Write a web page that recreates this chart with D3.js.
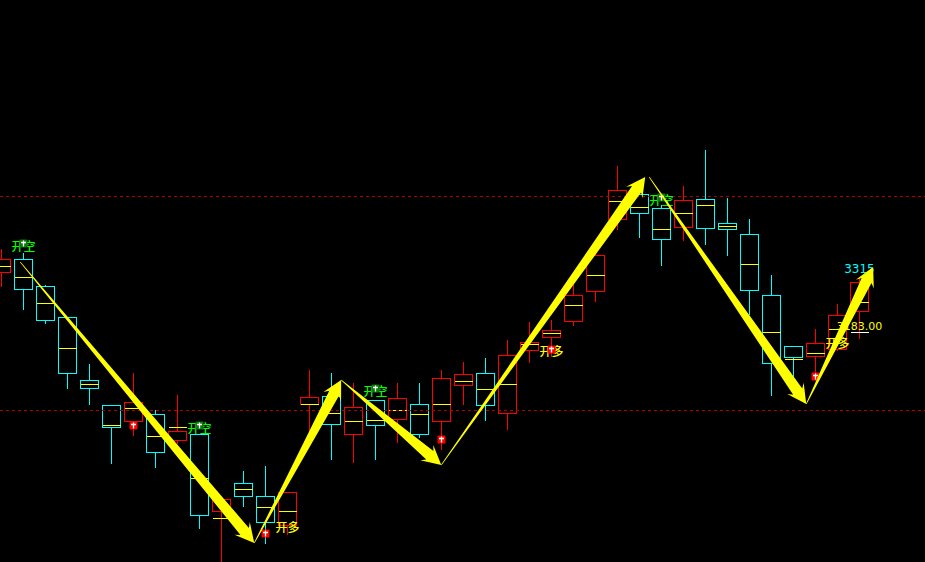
<!DOCTYPE html>
<html><head><meta charset="utf-8">
<script src="https://cdn.jsdelivr.net/npm/d3@7"></script>
<style>html,body{margin:0;padding:0;background:#000;overflow:hidden}svg{display:block}</style>
</head><body><svg id="c" width="925" height="562"></svg>
<script>
const highs=[3337,3329,3265,3201,3107,3025,3089,3015,3045,2967,2841,2893,2903,2851,3095,3089,3069,3035,3069,3069,3095,3111,3119,3155,3191,3195,3275,3335,3503,3449,3425,3463,3535,3439,3397,3285,3143,3177,3227,3279];
const lows=[3263,3217,3189,3059,3027,2909,2965,2901,2949,2779,2711,2823,2749,2767,2965,2917,2911,2917,2951,2961,2937,3027,2995,2977,3111,3123,3185,3233,3377,3361,3305,3355,3347,3325,3207,3045,3071,3075,3135,3159];
const tops=[3317,3317,3263,3201,3075,3025,3031,3007,2973,2967,2837,2869,2843,2851,3041,3043,3021,3035,3039,3027,3079,3087,3089,3125,3151,3175,3245,3325,3455,3447,3419,3435,3437,3389,3367,3245,3143,3149,3205,3271];
const bottoms=[3291,3257,3195,3089,3059,2981,2993,2931,2955,2805,2813,2843,2791,2785,3027,2987,2967,2985,2997,2967,2993,3065,3025,3009,3135,3161,3193,3253,3397,3409,3357,3381,3379,3377,3255,3109,3121,3123,3137,3213];
const mids=[3303,3281,3229,3139,3067,2985,3019,2963,2981,2879,2799,2857,2821,2813,3027,3009,2993,2995,3015,3007,3027,3073,3057,3067,3147,3169,3225,3285,3433,3421,3377,3409,3425,3383,3307,3171,3117,3129,3177,3231];
const redIdx=[0,6,8,10,13,14,16,18,20,21,23,24,25,26,27,28,31,37,38,39];
const refLevels=[3443,3015];
const arrowIdx=[[0.85,11.49],[11.49,15.44],[15.44,19.99],[19.99,29.26],[29.44,36.58],[36.58,39.62]];
const arrowPrice=[[3311,2749],[2749,3075],[3075,2905],[2905,3481],[3481,3027],[3027,3301]];
const shortMarkers=[[1,3349],[9,2985],[17,3059],[30,3441]];
const longMarkers=[[6,2985],[12,2769],[20,2957],[25,3137],[37,3083]];
const shortLabels=[[1,3341],[9,2977],[17,3051],[30,3433]];
const longLabels=[[13,2779],[25,3131],[38,3147]];
const priceTexts=[["3315",39,3297,"#00ffff"],["3183.00",39,3183,"#ffff00"]];
const closeTick=[39,3171];

const svg=d3.select("#c");
const x=d3.scaleLinear().domain([0,39]).range([1.5,859.5]);
const y=d3.scaleLinear().domain([3835,2711]).range([0,562]);
const py=v=>Math.floor(y(v)+1e-6)+0.5;
const hw=9;
svg.append("rect").attr("width",925).attr("height",562).attr("fill","#000");

const g=svg.append("g").attr("shape-rendering","crispEdges");
const candles=d3.range(highs.length);
const col=i=>redIdx.includes(i)?"#ff0000":"#00ffff";
g.selectAll("line.w").data(candles).join("line").attr("class","w")
 .attr("x1",x).attr("x2",x).attr("y1",i=>py(highs[i])-0.5).attr("y2",i=>py(lows[i])+0.5)
 .attr("stroke",col);
g.selectAll("rect.b").data(candles).join("rect").attr("class","b")
 .attr("x",i=>x(i)-hw).attr("width",hw*2)
 .attr("y",i=>py(tops[i])).attr("height",i=>py(bottoms[i])-py(tops[i]))
 .attr("fill","#000").attr("stroke",col);
g.selectAll("line.m").data(candles).join("line").attr("class","m")
 .attr("x1",i=>x(i)-hw).attr("x2",i=>x(i)+hw).attr("y1",i=>py(mids[i])).attr("y2",i=>py(mids[i]))
 .attr("stroke","#ffff00");
g.append("line").attr("x1",x(closeTick[0])-hw).attr("x2",x(closeTick[0])+hw)
 .attr("y1",py(closeTick[1])).attr("y2",py(closeTick[1])).attr("stroke","#ffffff");

g.selectAll("line.ref").data(refLevels).join("line").attr("class","ref")
 .attr("x1",0).attr("x2",925).attr("y1",py).attr("y2",py)
 .attr("stroke","#b00000").attr("stroke-dasharray","3,3");

const font="'Noto Sans CJK SC','Noto Sans',sans-serif";
function labels(data,txt,color){
  svg.append("g").selectAll("text").data(data).join("text")
   .attr("x",d=>x(d[0])).attr("y",d=>y(d[1])).attr("dy","0.36em")
   .attr("text-anchor","middle").attr("font-family",font).attr("font-size",12).attr("font-weight",500)
   .attr("fill",color).text(txt);
}
labels(shortLabels,"开空","#00ff00");
labels(longLabels,"开多","#ffff00");

function markers(data,fill){
  const m=svg.append("g").selectAll("g").data(data).join("g")
   .attr("transform",d=>`translate(${x(d[0])},${py(d[1])})`);
  m.append("rect").attr("x",-4).attr("y",-4).attr("width",8).attr("height",8).attr("rx",1).attr("fill",fill);
  m.append("path").attr("d","M-2.5,-1H2.5M0,-3V3").attr("stroke","#fff").attr("stroke-width",1.3).attr("fill","none");
}
markers(shortMarkers,"#0a7a0a");
markers(longMarkers,"#ff0000");

svg.append("g").selectAll("text").data(priceTexts).join("text")
 .attr("x",d=>x(d[1])).attr("y",d=>y(d[2])).attr("dy","0.36em")
 .attr("text-anchor","middle").attr("font-family","'DejaVu Sans',sans-serif")
 .attr("font-size",(d,i)=>i?11:12)
 .attr("fill",d=>d[3]).text(d=>d[0]);

function arrowPath(x0,y0,x1,y1){
  const L=Math.hypot(x1-x0,y1-y0),ux=(x1-x0)/L,uy=(y1-y0)/L,nx=-uy,ny=ux;
  const pt=(b,s)=>[x1-ux*b+nx*s,y1-uy*b+ny*s];
  const st=s=>[x0+nx*s,y0+ny*s];
  return d3.line()([st(0.3),pt(15,5.5),pt(19,10),[x1,y1],pt(19,-10),pt(15,-5.5),st(-0.3)])+"Z";
}
svg.append("g").selectAll("path").data(arrowIdx.map((d,i)=>i)).join("path")
 .attr("d",i=>arrowPath(x(arrowIdx[i][0]),y(arrowPrice[i][0]),x(arrowIdx[i][1]),y(arrowPrice[i][1])))
 .attr("fill","#ffff00");
</script></body></html>
